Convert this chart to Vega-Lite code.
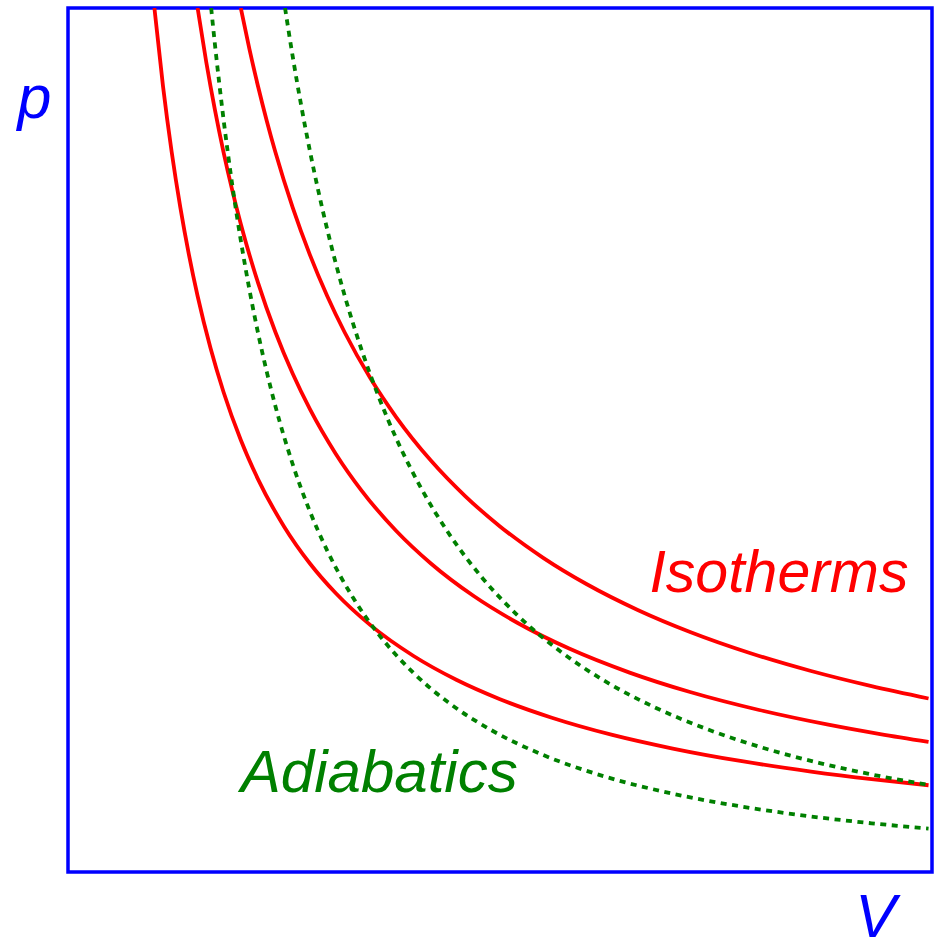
{
  "$schema": "https://vega.github.io/schema/vega-lite/v6.json",
  "width": 864,
  "height": 864,
  "autosize": {"type": "none"},
  "padding": {"left": 68, "top": 8, "right": 8, "bottom": 67},
  "background": "white",
  "config": {
    "view": {"stroke": "#0000ff", "strokeWidth": 3.5},
    "axis": {
      "domain": false,
      "ticks": false,
      "labels": false,
      "grid": false,
      "titleFont": "Liberation Sans",
      "titleFontStyle": "italic",
      "titleFontWeight": "normal",
      "titleFontSize": 61,
      "titleColor": "#0000ff",
      "titleAngle": 0,
      "titleAlign": "center",
      "titleBaseline": "alphabetic"
    }
  },
  "datasets": {
    "curves": [
      {"curve": "T1", "kind": "isotherm", "V": 0.10, "p": 1.0},
      {"curve": "T1", "kind": "isotherm", "V": 0.11, "p": 0.9091},
      {"curve": "T1", "kind": "isotherm", "V": 0.12, "p": 0.8333},
      {"curve": "T1", "kind": "isotherm", "V": 0.13, "p": 0.7692},
      {"curve": "T1", "kind": "isotherm", "V": 0.14, "p": 0.7143},
      {"curve": "T1", "kind": "isotherm", "V": 0.15, "p": 0.6667},
      {"curve": "T1", "kind": "isotherm", "V": 0.165, "p": 0.6061},
      {"curve": "T1", "kind": "isotherm", "V": 0.18, "p": 0.5556},
      {"curve": "T1", "kind": "isotherm", "V": 0.20, "p": 0.5},
      {"curve": "T1", "kind": "isotherm", "V": 0.22, "p": 0.4545},
      {"curve": "T1", "kind": "isotherm", "V": 0.25, "p": 0.4},
      {"curve": "T1", "kind": "isotherm", "V": 0.28, "p": 0.3571},
      {"curve": "T1", "kind": "isotherm", "V": 0.31, "p": 0.3226},
      {"curve": "T1", "kind": "isotherm", "V": 0.35, "p": 0.2857},
      {"curve": "T1", "kind": "isotherm", "V": 0.40, "p": 0.25},
      {"curve": "T1", "kind": "isotherm", "V": 0.45, "p": 0.2222},
      {"curve": "T1", "kind": "isotherm", "V": 0.50, "p": 0.2},
      {"curve": "T1", "kind": "isotherm", "V": 0.56, "p": 0.1786},
      {"curve": "T1", "kind": "isotherm", "V": 0.63, "p": 0.1587},
      {"curve": "T1", "kind": "isotherm", "V": 0.70, "p": 0.1429},
      {"curve": "T1", "kind": "isotherm", "V": 0.78, "p": 0.1282},
      {"curve": "T1", "kind": "isotherm", "V": 0.86, "p": 0.1163},
      {"curve": "T1", "kind": "isotherm", "V": 0.93, "p": 0.1075},
      {"curve": "T1", "kind": "isotherm", "V": 0.996, "p": 0.1004},

      {"curve": "T2", "kind": "isotherm", "V": 0.15, "p": 1.0},
      {"curve": "T2", "kind": "isotherm", "V": 0.16, "p": 0.9375},
      {"curve": "T2", "kind": "isotherm", "V": 0.17, "p": 0.8824},
      {"curve": "T2", "kind": "isotherm", "V": 0.18, "p": 0.8333},
      {"curve": "T2", "kind": "isotherm", "V": 0.19, "p": 0.7895},
      {"curve": "T2", "kind": "isotherm", "V": 0.20, "p": 0.75},
      {"curve": "T2", "kind": "isotherm", "V": 0.22, "p": 0.6818},
      {"curve": "T2", "kind": "isotherm", "V": 0.24, "p": 0.625},
      {"curve": "T2", "kind": "isotherm", "V": 0.26, "p": 0.5769},
      {"curve": "T2", "kind": "isotherm", "V": 0.28, "p": 0.5357},
      {"curve": "T2", "kind": "isotherm", "V": 0.31, "p": 0.4839},
      {"curve": "T2", "kind": "isotherm", "V": 0.34, "p": 0.4412},
      {"curve": "T2", "kind": "isotherm", "V": 0.38, "p": 0.3947},
      {"curve": "T2", "kind": "isotherm", "V": 0.42, "p": 0.3571},
      {"curve": "T2", "kind": "isotherm", "V": 0.47, "p": 0.3191},
      {"curve": "T2", "kind": "isotherm", "V": 0.52, "p": 0.2885},
      {"curve": "T2", "kind": "isotherm", "V": 0.58, "p": 0.2586},
      {"curve": "T2", "kind": "isotherm", "V": 0.65, "p": 0.2308},
      {"curve": "T2", "kind": "isotherm", "V": 0.72, "p": 0.2083},
      {"curve": "T2", "kind": "isotherm", "V": 0.80, "p": 0.1875},
      {"curve": "T2", "kind": "isotherm", "V": 0.88, "p": 0.1705},
      {"curve": "T2", "kind": "isotherm", "V": 0.94, "p": 0.1596},
      {"curve": "T2", "kind": "isotherm", "V": 0.996, "p": 0.1506},

      {"curve": "T3", "kind": "isotherm", "V": 0.20, "p": 1.0},
      {"curve": "T3", "kind": "isotherm", "V": 0.21, "p": 0.9524},
      {"curve": "T3", "kind": "isotherm", "V": 0.22, "p": 0.9091},
      {"curve": "T3", "kind": "isotherm", "V": 0.23, "p": 0.8696},
      {"curve": "T3", "kind": "isotherm", "V": 0.24, "p": 0.8333},
      {"curve": "T3", "kind": "isotherm", "V": 0.26, "p": 0.7692},
      {"curve": "T3", "kind": "isotherm", "V": 0.28, "p": 0.7143},
      {"curve": "T3", "kind": "isotherm", "V": 0.30, "p": 0.6667},
      {"curve": "T3", "kind": "isotherm", "V": 0.32, "p": 0.625},
      {"curve": "T3", "kind": "isotherm", "V": 0.35, "p": 0.5714},
      {"curve": "T3", "kind": "isotherm", "V": 0.38, "p": 0.5263},
      {"curve": "T3", "kind": "isotherm", "V": 0.42, "p": 0.4762},
      {"curve": "T3", "kind": "isotherm", "V": 0.46, "p": 0.4348},
      {"curve": "T3", "kind": "isotherm", "V": 0.50, "p": 0.4},
      {"curve": "T3", "kind": "isotherm", "V": 0.55, "p": 0.3636},
      {"curve": "T3", "kind": "isotherm", "V": 0.60, "p": 0.3333},
      {"curve": "T3", "kind": "isotherm", "V": 0.66, "p": 0.303},
      {"curve": "T3", "kind": "isotherm", "V": 0.72, "p": 0.2778},
      {"curve": "T3", "kind": "isotherm", "V": 0.79, "p": 0.2532},
      {"curve": "T3", "kind": "isotherm", "V": 0.86, "p": 0.2326},
      {"curve": "T3", "kind": "isotherm", "V": 0.93, "p": 0.2151},
      {"curve": "T3", "kind": "isotherm", "V": 0.996, "p": 0.2008},

      {"curve": "S1", "kind": "adiabat", "V": 0.1657, "p": 1.0},
      {"curve": "S1", "kind": "adiabat", "V": 0.17, "p": 0.9585},
      {"curve": "S1", "kind": "adiabat", "V": 0.18, "p": 0.8714},
      {"curve": "S1", "kind": "adiabat", "V": 0.19, "p": 0.7961},
      {"curve": "S1", "kind": "adiabat", "V": 0.20, "p": 0.731},
      {"curve": "S1", "kind": "adiabat", "V": 0.21, "p": 0.6739},
      {"curve": "S1", "kind": "adiabat", "V": 0.22, "p": 0.6236},
      {"curve": "S1", "kind": "adiabat", "V": 0.23, "p": 0.5791},
      {"curve": "S1", "kind": "adiabat", "V": 0.24, "p": 0.5394},
      {"curve": "S1", "kind": "adiabat", "V": 0.26, "p": 0.4722},
      {"curve": "S1", "kind": "adiabat", "V": 0.28, "p": 0.4173},
      {"curve": "S1", "kind": "adiabat", "V": 0.30, "p": 0.372},
      {"curve": "S1", "kind": "adiabat", "V": 0.33, "p": 0.3173},
      {"curve": "S1", "kind": "adiabat", "V": 0.36, "p": 0.2745},
      {"curve": "S1", "kind": "adiabat", "V": 0.40, "p": 0.2303},
      {"curve": "S1", "kind": "adiabat", "V": 0.44, "p": 0.1964},
      {"curve": "S1", "kind": "adiabat", "V": 0.49, "p": 0.1642},
      {"curve": "S1", "kind": "adiabat", "V": 0.55, "p": 0.1354},
      {"curve": "S1", "kind": "adiabat", "V": 0.62, "p": 0.1109},
      {"curve": "S1", "kind": "adiabat", "V": 0.70, "p": 0.0906},
      {"curve": "S1", "kind": "adiabat", "V": 0.78, "p": 0.0757},
      {"curve": "S1", "kind": "adiabat", "V": 0.86, "p": 0.0643},
      {"curve": "S1", "kind": "adiabat", "V": 0.93, "p": 0.0564},
      {"curve": "S1", "kind": "adiabat", "V": 0.996, "p": 0.0503},

      {"curve": "S2", "kind": "adiabat", "V": 0.2512, "p": 1.0},
      {"curve": "S2", "kind": "adiabat", "V": 0.26, "p": 0.9443},
      {"curve": "S2", "kind": "adiabat", "V": 0.27, "p": 0.8866},
      {"curve": "S2", "kind": "adiabat", "V": 0.28, "p": 0.8345},
      {"curve": "S2", "kind": "adiabat", "V": 0.29, "p": 0.7871},
      {"curve": "S2", "kind": "adiabat", "V": 0.30, "p": 0.7439},
      {"curve": "S2", "kind": "adiabat", "V": 0.32, "p": 0.6679},
      {"curve": "S2", "kind": "adiabat", "V": 0.34, "p": 0.6038},
      {"curve": "S2", "kind": "adiabat", "V": 0.36, "p": 0.5489},
      {"curve": "S2", "kind": "adiabat", "V": 0.38, "p": 0.5016},
      {"curve": "S2", "kind": "adiabat", "V": 0.41, "p": 0.4419},
      {"curve": "S2", "kind": "adiabat", "V": 0.44, "p": 0.3929},
      {"curve": "S2", "kind": "adiabat", "V": 0.48, "p": 0.3398},
      {"curve": "S2", "kind": "adiabat", "V": 0.52, "p": 0.2974},
      {"curve": "S2", "kind": "adiabat", "V": 0.57, "p": 0.2552},
      {"curve": "S2", "kind": "adiabat", "V": 0.62, "p": 0.2218},
      {"curve": "S2", "kind": "adiabat", "V": 0.68, "p": 0.1902},
      {"curve": "S2", "kind": "adiabat", "V": 0.74, "p": 0.1652},
      {"curve": "S2", "kind": "adiabat", "V": 0.80, "p": 0.145},
      {"curve": "S2", "kind": "adiabat", "V": 0.87, "p": 0.1261},
      {"curve": "S2", "kind": "adiabat", "V": 0.93, "p": 0.1129},
      {"curve": "S2", "kind": "adiabat", "V": 0.996, "p": 0.1007}
    ]
  },
  "layer": [
    {
      "data": {"name": "curves"},
      "transform": [{"filter": "datum.kind === 'isotherm'"}],
      "mark": {"type": "line", "color": "#ff0000", "strokeWidth": 3.8, "interpolate": "monotone", "clip": true},
      "encoding": {
        "x": {
          "field": "V", "type": "quantitative",
          "scale": {"domain": [0, 1], "nice": false, "zero": true},
          "axis": {"title": "V", "titleX": 807, "titleY": 64}
        },
        "y": {
          "field": "p", "type": "quantitative",
          "scale": {"domain": [0, 1], "nice": false, "zero": true},
          "axis": {"title": "p", "titleX": -34, "titleY": 109}
        },
        "detail": {"field": "curve"}
      }
    },
    {
      "data": {"name": "curves"},
      "transform": [{"filter": "datum.kind === 'adiabat'"}],
      "mark": {"type": "line", "color": "#008000", "strokeWidth": 3.8, "strokeDash": [6, 5.5], "interpolate": "monotone", "clip": true},
      "encoding": {
        "x": {"field": "V", "type": "quantitative"},
        "y": {"field": "p", "type": "quantitative"},
        "detail": {"field": "curve"}
      }
    },
    {
      "data": {"values": [{"label": "Isotherms", "V": 0.673, "p": 0.324}]},
      "mark": {"type": "text", "color": "#ff0000", "font": "Liberation Sans", "fontStyle": "italic", "fontSize": 59, "align": "left", "baseline": "alphabetic"},
      "encoding": {
        "x": {"field": "V", "type": "quantitative"},
        "y": {"field": "p", "type": "quantitative"},
        "text": {"field": "label"}
      }
    },
    {
      "data": {"values": [{"label": "Adiabatics", "V": 0.2, "p": 0.0926}]},
      "mark": {"type": "text", "color": "#008000", "font": "Liberation Sans", "fontStyle": "italic", "fontSize": 60, "align": "left", "baseline": "alphabetic"},
      "encoding": {
        "x": {"field": "V", "type": "quantitative"},
        "y": {"field": "p", "type": "quantitative"},
        "text": {"field": "label"}
      }
    }
  ]
}
